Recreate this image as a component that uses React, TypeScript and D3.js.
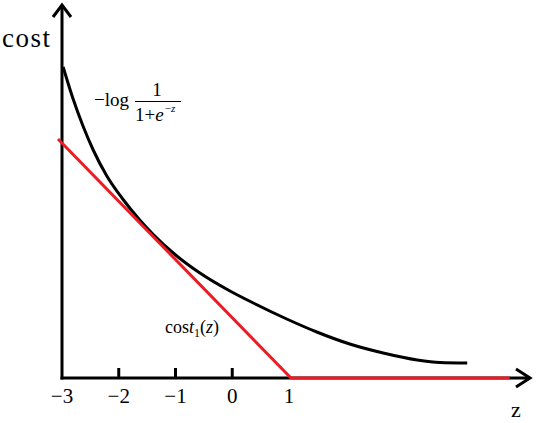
import React from "react";
import * as d3 from "d3";

const curveZ = [-2.98, -2.81, -2.63, -2.45, -2.21, -1.93, -1.63, -1.4, -1.04, -0.57, -0.04, 0.37, 0.96, 1.49, 2.07, 2.66, 3.26, 3.66, 4.14];
const curveCost = [3.11, 2.8, 2.52, 2.28, 2.02, 1.79, 1.58, 1.44, 1.25, 1.05, 0.87, 0.75, 0.59, 0.46, 0.34, 0.25, 0.18, 0.155, 0.15];
const hingeZ = [-3.07, 1.035, 4.89];
const hingeCost = [2.39, 0, 0];
const tickValues = [-3, -2, -1, 0, 1];
const tickMarks = [-2, -1, 0];

const W = 541;
const H = 423;

export default function App() {
  const x = d3.scaleLinear().domain([-3, 1]).range([62, 289]);
  const y = d3.scaleLinear().domain([0, 1]).range([378, 278]);

  const curvePts: [number, number][] = curveZ.map((z, i) => [x(z), y(curveCost[i])]);
  const hingePts: [number, number][] = hingeZ.map((z, i) => [x(z), y(hingeCost[i])]);

  const smooth = d3.line().curve(d3.curveMonotoneX)(curvePts) || "";
  const hinge = d3.line()(hingePts) || "";

  const x0 = x(-3);
  const y0 = y(0);
  const red = "#ec1c24";
  const serif = "'Liberation Serif', 'Times New Roman', serif";

  return (
    <svg
      width={W}
      height={H}
      viewBox={`0 0 ${W} ${H}`}
      style={{ position: "absolute", left: 0, top: 0, background: "#fff" }}
    >
      <rect x={0} y={0} width={W} height={H} fill="#fff" />
      {/* y axis */}
      <line x1={x0} y1={y0 + 1.5} x2={x0} y2={6} stroke="#000" strokeWidth={3} />
      <polyline points={`${x0 - 9},17 ${x0},5 ${x0 + 9},17`} fill="none" stroke="#000" strokeWidth={3} />
      {/* x axis */}
      <line x1={x0 - 1.5} y1={y0} x2={530} y2={y0} stroke="#000" strokeWidth={3} />
      <polyline points={`516,369 530,${y0} 516,387`} fill="none" stroke="#000" strokeWidth={3} />
      {tickMarks.map((t) => (
        <line key={t} x1={x(t)} x2={x(t)} y1={y0} y2={y0 - 10} stroke="#000" strokeWidth={3} />
      ))}
      {tickValues.map((t) => (
        <text
          key={t}
          x={x(t)}
          y={403}
          textAnchor="middle"
          fontFamily={serif}
          fontSize={21}
          fill="#000"
        >
          {t < 0 ? `\u2212${Math.abs(t)}` : `${t}`}
        </text>
      ))}
      {/* curves */}
      <path d={smooth} fill="none" stroke="#000" strokeWidth={3} />
      <path d={hinge} fill="none" stroke={red} strokeWidth={3} />
      {/* labels */}
      <text x={2} y={47} fontFamily={serif} fontSize={27} letterSpacing={1.5} fill="#000">
        cost
      </text>
      <text x={511} y={417} fontFamily={serif} fontSize={22} fill="#000">
        z
      </text>
      {/* formula */}
      <text x={94} y={106} fontFamily={serif} fontSize={19} fill="#000">
        {"\u2212log"}
      </text>
      <text x={157} y={96} textAnchor="middle" fontFamily={serif} fontSize={19} fill="#000">
        1
      </text>
      <line x1={135} x2={181} y1={101.5} y2={101.5} stroke="#000" strokeWidth={1} />
      <text x={135} y={121} fontFamily={serif} fontSize={19} fill="#000">
        1+<tspan fontStyle="italic">e</tspan>
        <tspan fontSize={11} dx={1} dy={-9}>{"\u2212"}</tspan>
        <tspan fontSize={11} fontStyle="italic">z</tspan>
      </text>
      <text x={165} y={333} fontFamily={serif} fontSize={18} fill="#000">
        cos<tspan fontStyle="italic">t</tspan>
        <tspan fontSize={12} dy={4}>1</tspan>
        <tspan dy={-4}>(</tspan>
        <tspan fontStyle="italic">z</tspan>)
      </text>
    </svg>
  );
}
